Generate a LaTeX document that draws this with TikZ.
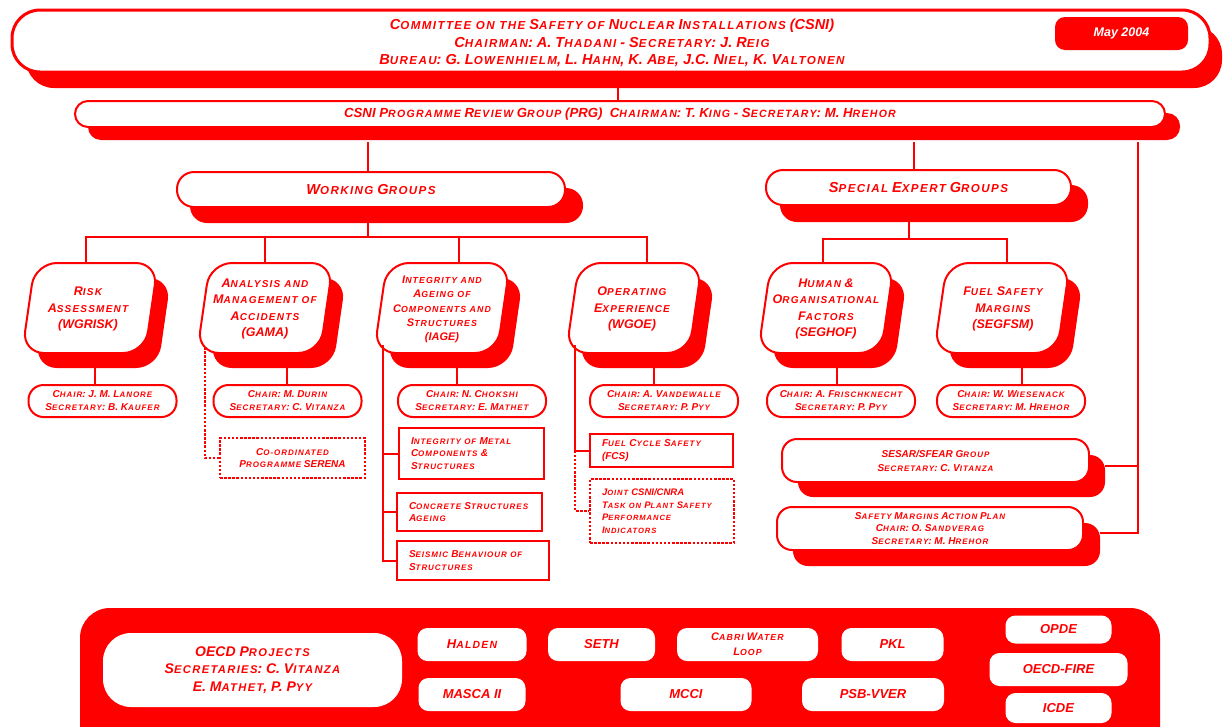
\documentclass[tikz,border=0pt]{standalone}
\usepackage{fontspec}
\setmainfont{Liberation Sans}
\newfontfamily\lsfont[LetterSpace=12]{Liberation Sans}
\makeatletter
\newdimen\smdim
\newcommand\smc[1]{{\smdim=\f@size pt\smdim=0.8\smdim\fontsize{\strip@pt\smdim}{\strip@pt\smdim}\lsfont\bfseries\itshape\uppercase{#1}}}
\makeatother
\tikzset{
  conn/.style={draw=red, line width=2.5pt},
  dconn/.style={draw=red, line width=2.5pt, dash pattern=on 2.5pt off 1.6pt},
  wbox/.style={draw=red, line width=2pt, fill=white},
  shad/.style={fill=red},
  btxt/.style={text=red, align=center, inner sep=0pt},
  gtxt/.style={btxt, font=\fontsize{12.5}{16.5}\selectfont\bfseries\itshape},
  chairbox/.style={wbox, rounded corners=15pt, minimum width=148pt, minimum height=32pt, text=red,
     font=\fontsize{10}{13}\selectfont\bfseries\itshape, align=center, inner sep=0pt},
  subbox/.style={wbox, line width=1.6pt, text=red, font=\fontsize{10}{12.5}\selectfont\bfseries\itshape,
     align=left, inner xsep=12pt, inner ysep=0pt, text width=#1},
  obox/.style={fill=white, rounded corners=10pt, text=red, font=\fontsize{13}{14}\selectfont\bfseries\itshape,
     align=center, inner sep=0pt, minimum height=33pt},
}
\newcommand\gshape[2]{%
  \fill[red,rounded corners=22pt] (#1-55+13,#2-45+15) -- (#1+68+13,#2-45+15) -- (#1+55+13,#2+45+15) -- (#1-68+13,#2+45+15) -- cycle;
  \draw[red,line width=2pt,fill=white,rounded corners=22pt] (#1-55,#2-45) -- (#1+68,#2-45) -- (#1+55,#2+45) -- (#1-68,#2+45) -- cycle;}
\begin{document}
\begin{tikzpicture}[x=1pt,y=-1pt]
\path[use as bounding box, fill=white] (0,0) rectangle (1224,726);

% ---------- top CSNI box ----------
\fill[shad, rounded corners=28pt] (26,26) rectangle (1222,88);
\node[wbox, line width=3pt, rounded corners=28pt, minimum width=1198pt, minimum height=62pt] (csni) at (611,41) {};
\node[btxt, font=\fontsize{14.5}{17.5}\selectfont\bfseries\itshape] (csnitxt) at (612,43)
  {C\smc{OMMITTEE ON THE} S\smc{AFETY OF} N\smc{UCLEAR} I\smc{NSTALLATIONS} (CSNI)\\
   C\smc{HAIRMAN}: A. T\smc{HADANI} - S\smc{ECRETARY}: J. R\smc{EIG}\\
   B\smc{UREAU}: G. L\smc{OWENHIELM}, L. H\smc{AHN}, K. A\smc{BE}, J.C. N\smc{IEL}, K. V\smc{ALTONEN}};
\node[fill=red, rounded corners=10pt, minimum width=133pt, minimum height=33pt, text=white, inner sep=0pt,
      font=\fontsize{12.5}{14}\selectfont\bfseries\itshape] (may) at (1121.5,33.5) {May 2004};

% ---------- PRG bar ----------
\fill[shad, rounded corners=13pt] (88,113) rectangle (1180,140);
\node[wbox, rounded corners=13pt, minimum width=1090pt, minimum height=26pt, btxt,
      font=\fontsize{13.2}{14}\selectfont\bfseries\itshape] (prg) at (620,114)
  {CSNI P\smc{ROGRAMME} R\smc{EVIEW} G\smc{ROUP} (PRG)\ \ C\smc{HAIRMAN}: T. K\smc{ING} - S\smc{ECRETARY}: M. H\smc{REHOR}};
\coordinate (csnib) at (618,88);
\draw[conn] (csnib) -- (csnib |- prg.north);

% ---------- group headers ----------
\fill[shad, rounded corners=17pt] (190,188) rectangle (583,223);
\node[wbox, rounded corners=17pt, minimum width=388pt, minimum height=35pt, btxt,
      font=\fontsize{14.5}{15}\selectfont\bfseries\itshape] (wg) at (371,189.5) {W\smc{ORKING} G\smc{ROUPS}};
\fill[shad, rounded corners=17pt] (780,185) rectangle (1088,222);
\node[wbox, rounded corners=17pt, minimum width=305pt, minimum height=35pt, btxt,
      font=\fontsize{14.5}{15}\selectfont\bfseries\itshape] (seg) at (918.5,187.5) {S\smc{PECIAL} E\smc{XPERT} G\smc{ROUPS}};

\coordinate (prgb1) at (368,142);
\coordinate (prgb2) at (914,142);
\coordinate (prgb3) at (1138,142);
\draw[conn] (prgb1) -- (prgb1 |- wg.north);
\draw[conn] (prgb2) -- (prgb2 |- seg.north);

% ---------- group boxes ----------
\gshape{90}{308}
\gshape{265}{308}
\gshape{442}{308}
\gshape{634}{308}
\gshape{826}{308}
\gshape{1002}{308}
\node[gtxt] (wgrisk) at (88,309) {R\smc{ISK}\\A\smc{SSESSMENT}\\(WGRISK)};
\node[gtxt] (gama) at (265,309) {A\smc{NALYSIS AND}\\M\smc{ANAGEMENT OF}\\A\smc{CCIDENTS}\\(GAMA)};
\node[gtxt, font=\fontsize{11}{14.2}\selectfont\bfseries\itshape] (iage) at (442,309.5)
  {I\smc{NTEGRITY AND}\\A\smc{GEING OF}\\C\smc{OMPONENTS AND}\\S\smc{TRUCTURES}\\(IAGE)};
\node[gtxt] (wgoe) at (632,309) {O\smc{PERATING}\\E\smc{XPERIENCE}\\(WGOE)};
\node[gtxt] (seghof) at (826,309) {H\smc{UMAN} \&\\O\smc{RGANISATIONAL}\\F\smc{ACTORS}\\(SEGHOF)};
\node[gtxt] (segfsm) at (1003,309) {F\smc{UEL} S\smc{AFETY}\\M\smc{ARGINS}\\(SEGFSM)};

% buses
\coordinate (wgb) at (368,223);
\coordinate (g1t) at (86,263);
\coordinate (g2t) at (265,263);
\coordinate (g3t) at (459,263);
\coordinate (g4t) at (647,263);
\draw[conn] (wgb) -- ++(0,14);
\draw[conn] (g1t) -- ++(0,-26) -| (g4t);
\draw[conn] (g2t) -- ++(0,-26);
\draw[conn] (g3t) -- ++(0,-26);
\coordinate (segb) at (909,222);
\coordinate (g5t) at (823,263);
\coordinate (g6t) at (1007,263);
\draw[conn] (segb) -- ++(0,17);
\draw[conn] (g5t) -- ++(0,-24) -| (g6t);

% ---------- chair boxes ----------
\node[chairbox] (ch1) at (102.5,401) {C\smc{HAIR}: J. M. L\smc{ANORE}\\S\smc{ECRETARY}: B. K\smc{AUFER}};
\node[chairbox] (ch2) at (287.5,401) {C\smc{HAIR}: M. D\smc{URIN}\\S\smc{ECRETARY}: C. V\smc{ITANZA}};
\node[chairbox] (ch3) at (472,401) {C\smc{HAIR}: N. C\smc{HOKSHI}\\S\smc{ECRETARY}: E. M\smc{ATHET}};
\node[chairbox] (ch4) at (664,401) {C\smc{HAIR}: A. V\smc{ANDEWALLE}\\S\smc{ECRETARY}: P. P\smc{YY}};
\node[chairbox] (ch5) at (841,401) {C\smc{HAIR}: A. F\smc{RISCHKNECHT}\\S\smc{ECRETARY}: P. P\smc{YY}};
\node[chairbox] (ch6) at (1011,401) {C\smc{HAIR}: W. W\smc{IESENACK}\\S\smc{ECRETARY}: M. H\smc{REHOR}};
\coordinate (c1) at (95,367);
\coordinate (c2) at (287,367);
\coordinate (c3) at (457,367);
\coordinate (c4) at (654,367);
\coordinate (c5) at (837,367);
\coordinate (c6) at (1022,367);
\draw[conn, line width=2pt] (c1) -- (c1 |- ch1.north);
\draw[conn, line width=2pt] (c2) -- (c2 |- ch2.north);
\draw[conn, line width=2pt] (c3) -- (c3 |- ch3.north);
\draw[conn, line width=2pt] (c4) -- (c4 |- ch4.north);
\draw[conn, line width=2pt] (c5) -- (c5 |- ch5.north);
\draw[conn, line width=2pt] (c6) -- (c6 |- ch6.north);

% ---------- GAMA: SERENA ----------
\node[draw=red, line width=2.5pt, dash pattern=on 2.5pt off 1.6pt, fill=white, minimum width=145pt, minimum height=40pt,
      btxt, font=\fontsize{10}{12.5}\selectfont\bfseries\itshape] (serena) at (292.5,458)
  {C\smc{O-ORDINATED}\\P\smc{ROGRAMME} SERENA};
\coordinate (gl) at (205,347);
\draw[dconn] (gl) |- (serena.west);

% ---------- IAGE sub-boxes ----------
\node[subbox=121pt, minimum height=51pt] (m1) at (471.5,453.5)
  {I\smc{NTEGRITY OF} M\smc{ETAL}\\C\smc{OMPONENTS} \&\\S\smc{TRUCTURES}};
\node[subbox=121pt, minimum height=38pt] (m2) at (469.5,512)
  {C\smc{ONCRETE} S\smc{TRUCTURES}\\A\smc{GEING}};
\node[subbox=128pt, minimum height=39pt] (m3) at (473,560.5)
  {S\smc{EISMIC} B\smc{EHAVIOUR OF}\\S\smc{TRUCTURES}};
\coordinate (il) at (383,345);
\draw[conn, line width=2pt] (il) |- (m3.west);
\draw[conn, line width=2pt] (il |- m1.west) -- (m1.west);
\draw[conn, line width=2pt] (il |- m2.west) -- (m2.west);

% ---------- WGOE sub-boxes ----------
\node[subbox=119pt, minimum height=33pt] (fcs) at (661.5,450.5) {F\smc{UEL} C\smc{YCLE} S\smc{AFETY}\\(FCS)};
\node[subbox=120pt, minimum height=64pt, line width=2.5pt, dash pattern=on 2.5pt off 1.6pt,
      font=\fontsize{9.5}{12.5}\selectfont\bfseries\itshape] (joint) at (662,511)
  {J\smc{OINT} CSNI/CNRA\\T\smc{ASK ON} P\smc{LANT} S\smc{AFETY}\\P\smc{ERFORMANCE}\\I\smc{NDICATORS}};
\coordinate (ol) at (575,345);
\draw[conn, line width=2pt] (ol) |- (fcs.west);
\draw[dconn] (ol |- fcs.west) |- (joint.west);

% ---------- SESAR / Safety margins ----------
\fill[shad, rounded corners=15pt] (798,455) rectangle (1105,497);
\node[wbox, rounded corners=15pt, minimum width=307pt, minimum height=43pt, btxt,
      font=\fontsize{10}{14}\selectfont\bfseries\itshape] (sesar) at (935.5,460.5)
  {SESAR/SFEAR G\smc{ROUP}\\S\smc{ECRETARY}: C. V\smc{ITANZA}};
\fill[shad, rounded corners=15pt] (793,523) rectangle (1100,566);
\node[wbox, rounded corners=15pt, minimum width=306pt, minimum height=43pt, btxt,
      font=\fontsize{10}{12.8}\selectfont\bfseries\itshape] (sm) at (930,528.5)
  {S\smc{AFETY} M\smc{ARGINS} A\smc{CTION} P\smc{LAN}\\C\smc{HAIR}: O. S\smc{ANDVERAG}\\S\smc{ECRETARY}: M. H\smc{REHOR}};
\coordinate (sesr) at (1105,466);
\coordinate (smr) at (1100,533);
\draw[conn, line width=2pt] (prgb3) |- (smr);
\draw[conn, line width=2pt] (sesr) -- (sesr -| prgb3);

% ---------- OECD projects panel ----------
\fill[red, rounded corners=30pt] (80,608) rectangle (1160,760);
\node[obox, rounded corners=28pt, minimum width=299pt, minimum height=74pt, font=\fontsize{14}{17.5}\selectfont\bfseries\itshape]
  (oecd) at (252.5,670) {OECD P\smc{ROJECTS}\\S\smc{ECRETARIES}: C. V\smc{ITANZA}\\E. M\smc{ATHET}, P. P\smc{YY}};
\node[obox, minimum width=109pt] (halden) at (472,644.5) {H\smc{ALDEN}};
\node[obox, minimum width=107pt] (seth) at (601.5,644.5) {SETH};
\node[obox, minimum width=141pt, font=\fontsize{11}{15}\selectfont\bfseries\itshape] (cabri) at (747.5,644.5)
  {C\smc{ABRI} W\smc{ATER}\\L\smc{OOP}};
\node[obox, minimum width=102pt] (pkl) at (892.5,644.5) {PKL};
\node[obox, minimum width=107pt] (masca) at (472,694.5) {MASCA II};
\node[obox, minimum width=131pt] (mcci) at (686,694.5) {MCCI};
\node[obox, minimum width=142pt] (psb) at (873,694.5) {PSB-VVER};
\node[obox, minimum width=106pt, minimum height=28pt] (opde) at (1058.5,629.5) {OPDE};
\node[obox, minimum width=138pt] (fire) at (1058.5,669.5) {OECD-FIRE};
\node[obox, minimum width=106pt, minimum height=30pt] (icde) at (1058.5,708) {ICDE};
\end{tikzpicture}
\end{document}
